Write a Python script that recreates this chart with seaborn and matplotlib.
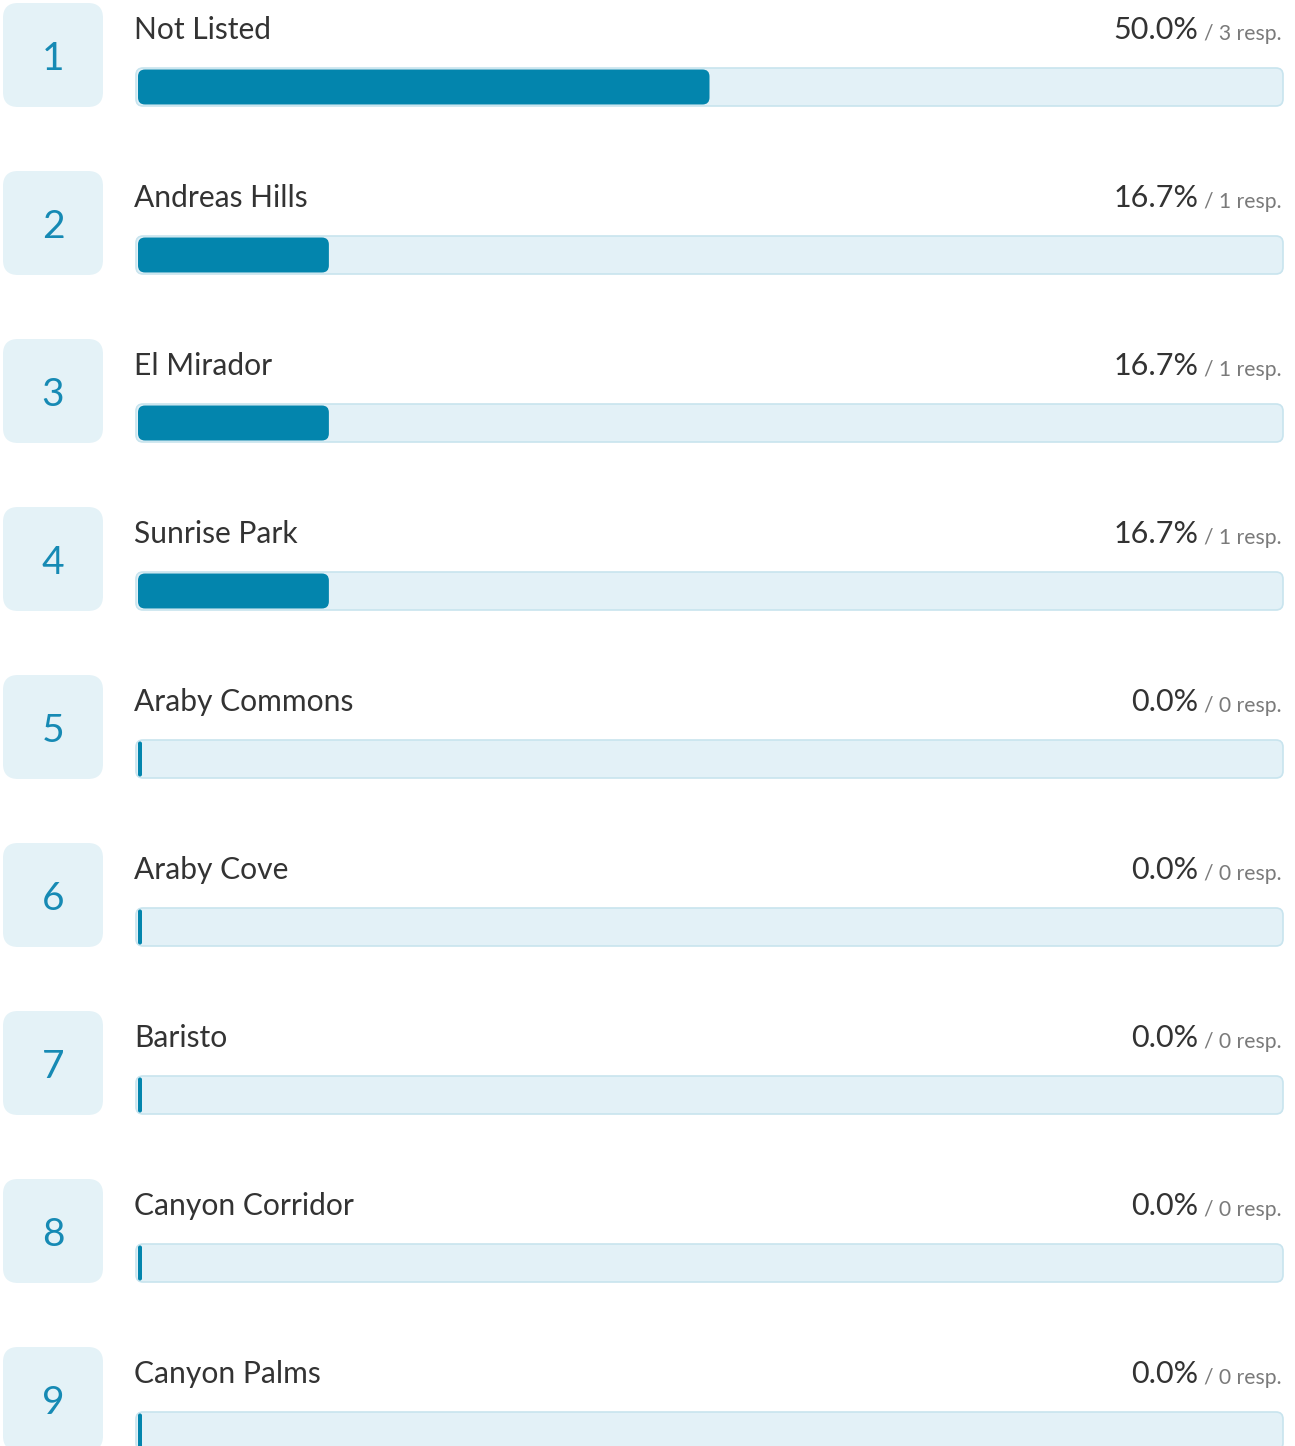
# Ranked survey responses - horizontal progress bars
import numpy as np
import pandas as pd
import matplotlib.pyplot as plt
import seaborn as sns
from matplotlib.patches import FancyBboxPatch

ranks = [1, 2, 3, 4, 5, 6, 7, 8, 9]
labels = ['Not Listed', 'Andreas Hills', 'El Mirador', 'Sunrise Park',
          'Araby Commons', 'Araby Cove', 'Baristo', 'Canyon Corridor',
          'Canyon Palms']
pcts = [50.0, 16.7, 16.7, 16.7, 0.0, 0.0, 0.0, 0.0, 0.0]
counts = [3, 1, 1, 1, 0, 0, 0, 0, 0]

# layout (pixels)
W, H = 1295, 1446
ROW = 168          # px between rows
TOP = 87           # centre of first bar
PX_X = 1143 / 100  # px per percent

BAR_COL = '#0385ad'
TRACK_COL = '#e3f1f7'
TRACK_EDGE = '#c8e4ee'
BOX_COL = '#e4f2f7'
NUM_COL = '#168ab4'

sns.set_theme(style='white')
plt.rcParams['font.family'] = ['Lato', 'DejaVu Sans']

fig = plt.figure(figsize=(W / 100, H / 100), dpi=100)
ax = fig.add_axes([138 / W, 0, 1143 / W, 1])

df = pd.DataFrame({'label': labels, 'pct': pcts, 'full': 100.0})
sns.barplot(data=df, x='full', y='label', orient='h', color=TRACK_COL,
            saturation=1, width=38 / ROW, ax=ax)
n_track = len(ax.patches)
sns.barplot(data=df, x='pct', y='label', orient='h', color=BAR_COL,
            saturation=1, width=35 / ROW, ax=ax)

ax.set_xlim(0, 100)
ax.set_ylim((H - TOP) / ROW, -TOP / ROW)
ax.axis('off')


def rounded(x, y, w, h, r_px, **kw):
    # rounded rectangle in data coords, radius given in pixels
    r = min(r_px / PX_X, w / 2)
    return FancyBboxPatch((x, y), w, h,
                          boxstyle=f'round,pad=0,rounding_size={r}',
                          mutation_aspect=PX_X / ROW, clip_on=False, **kw)


# swap the square seaborn bars for rounded ones
for k, p in enumerate(list(ax.patches)):
    x, y, w, h = p.get_x(), p.get_y(), p.get_width(), p.get_height()
    p.remove()
    if k < n_track:
        pad = 2 / PX_X
        ax.add_patch(rounded(x - pad, y, w + 2 * pad, h, 7,
                             facecolor=TRACK_COL, edgecolor=TRACK_EDGE,
                             linewidth=1.2, zorder=1))
    else:
        w = max(w, 4 / PX_X)
        ax.add_patch(rounded(x, y, w, h, 7, facecolor=BAR_COL,
                             edgecolor='none', zorder=2))

for i, rank in enumerate(ranks):
    # number tile
    ax.add_patch(rounded((3 - 138) / PX_X, i - 84 / ROW, 100 / PX_X,
                         104 / ROW, 15, facecolor=BOX_COL, edgecolor='none'))
    ax.text((53 - 138) / PX_X, i - 17 / ROW, str(rank), ha='center',
            va='baseline', fontsize=28, color=NUM_COL, clip_on=False)

    ax.text(-4 / PX_X, i - 48 / ROW, labels[i], ha='left', va='baseline',
            fontsize=21.6, color='#333333', clip_on=False)
    small = ax.text(100 + 1 / PX_X, i - 47 / ROW, f'/ {counts[i]} resp.',
                    ha='right', va='baseline', fontsize=15.2, color='#7a7a7a',
                    clip_on=False)
    ax.annotate(f'{pcts[i]:.1f}%', xy=(0, i - 48 / ROW),
                xycoords=(small, 'data'), xytext=(-4.5, 0),
                textcoords='offset points', ha='right', va='baseline',
                fontsize=22, color='#333333', annotation_clip=False)

fig.savefig('out.png', dpi=100)
